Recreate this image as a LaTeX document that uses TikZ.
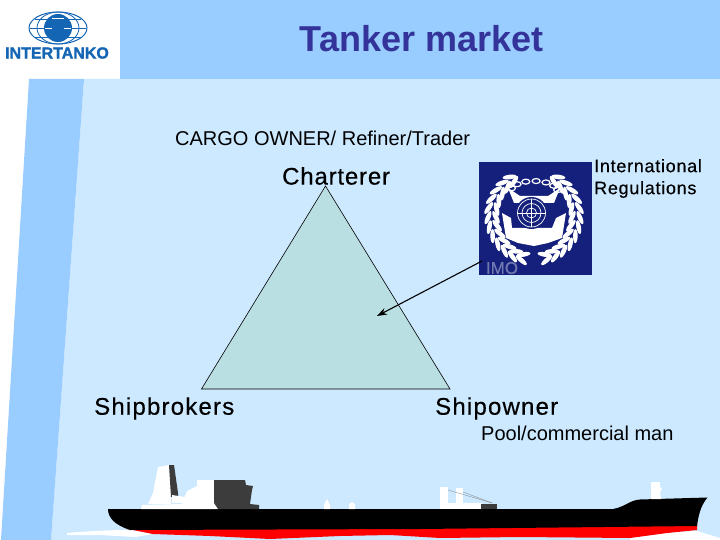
\documentclass[tikz,border=0pt]{standalone}
\usepackage{fontspec}
\usetikzlibrary{arrows.meta}
\setmainfont{Liberation Sans}
\definecolor{pagecol}{HTML}{CCE9FF}
\definecolor{bandcol}{HTML}{99CCFF}
\definecolor{titlecol}{HTML}{333399}
\definecolor{logocol}{HTML}{1565B5}
\definecolor{imocol}{HTML}{14207C}
\definecolor{trianglecol}{HTML}{BADFE3}
\definecolor{deckcol}{HTML}{3C3C3C}
\tikzstyle{textlabel}=[inner sep=0pt,anchor=west,black]
\tikzstyle{plain20}=[textlabel,font=\fontsize{20}{20}\selectfont]
\tikzstyle{spaced24}=[textlabel,font=\fontsize{24}{24}\selectfont\addfontfeature{LetterSpace=3.4,FakeBold=0.4}]
\tikzstyle{wide24}=[textlabel,font=\fontsize{24}{24}\selectfont\addfontfeature{LetterSpace=5,FakeBold=0.4}]
\tikzstyle{spaced18}=[textlabel,font=\fontsize{18}{22}\selectfont\addfontfeature{LetterSpace=4,FakeBold=0.4},align=left]
\tikzstyle{leaf}=[fill=white]
\tikzstyle{white part}=[fill=white]
\tikzstyle{dark part}=[fill=deckcol]
\begin{document}
\begin{tikzpicture}[x=1pt,y=-1pt]
    \useasboundingbox (0,0) rectangle (720,540);

    % page and header
    \fill[white] (0,0) rectangle (720,540);
    \fill[pagecol] (84,79) -- (720,79) -- (720,540) -- (51,540) -- cycle;
    \fill[bandcol] (29,79) -- (84,79) -- (51,540) -- (1,540) -- cycle;
    \fill[bandcol] (120,0) rectangle (720,79);
    \node (title)[inner sep=0pt,text=titlecol,font=\fontsize{36}{36}\selectfont\bfseries] at (421.5,39) {Tanker market};

    % company logo
    \fill[logocol] (58,28) ellipse [x radius=14pt,y radius=14pt];
    \draw[logocol,line width=1pt] (58,28) ellipse [x radius=29pt,y radius=16pt];
    \draw[logocol,line width=.8pt] (58,28) ellipse [x radius=21pt,y radius=16pt];
    \draw[logocol,line width=.8pt] (30,28) -- (86,28);
    \draw[logocol,line width=.8pt] (35,19) -- (81,19);
    \draw[logocol,line width=.8pt] (35,37) -- (81,37);
    \draw[white,line width=.8pt] (52,18) -- (64,18);
    \draw[white,line width=.8pt] (45,28) -- (52,28);
    \draw[white,line width=.8pt] (64,28) -- (71,28);
    \node (logoname)[inner sep=0pt,text=logocol,font=\fontsize{16}{16}\selectfont\bfseries\addfontfeature{FakeBold=1.5}] at (57,53) {INTERTANKO};

    % triangle
    \coordinate (apex) at (325.5,186);
    \coordinate (leftcorner) at (201.5,389);
    \coordinate (rightcorner) at (450,389);
    \draw[fill=trianglecol,line width=.6pt] (apex) -- (leftcorner) -- (rightcorner) -- cycle;

    \node (cargo)[plain20] at (175,138.5) {CARGO OWNER/ Refiner/Trader};
    \node (charterer)[spaced24] at (282,176) {Charterer};
    \node (shipbrokers)[wide24] at (94,408.5) {Shipbrokers};
    \node (shipowner)[wide24] at (435,408.5) {Shipowner};
    \node (pool)[plain20] at (481,433) {Pool/commercial man};
    \node (regulations)[spaced18] at (594,178.5) {International\\Regulations};

    % emblem
    \node (imobox)[fill=imocol,minimum width=113pt,minimum height=113pt,inner sep=0pt] at (535.5,218.5) {};
    \foreach \a in {122,134,...,254} {
        \fill[leaf,shift={({534+38*cos(\a)},{216-40*sin(\a)})},rotate=\a+115] (0,0) ellipse [x radius=7pt,y radius=2.3pt];
        \fill[leaf,shift={({534+46*cos(\a)},{216-46*sin(\a)})},rotate=\a+65] (0,0) ellipse [x radius=7pt,y radius=2.3pt];
    }
    \foreach \a in {-74,-62,...,58} {
        \fill[leaf,shift={({534+38*cos(\a)},{216-40*sin(\a)})},rotate=\a+65] (0,0) ellipse [x radius=7pt,y radius=2.3pt];
        \fill[leaf,shift={({534+46*cos(\a)},{216-46*sin(\a)})},rotate=\a+115] (0,0) ellipse [x radius=7pt,y radius=2.3pt];
    }
    \foreach \a in {10,35,...,170}
        \draw[white,line width=1.2pt] ({534+24*cos(\a)},{192-11*sin(\a)}) ellipse [x radius=4pt,y radius=2.5pt];
    \fill[white] (502,213) -- (511,218) -- (512,228) -- (552,228) -- (556,218) -- (566,213) -- (562,238) -- (548,243) -- (534,246) -- (518,243) -- (506,238) -- cycle;
    \fill[white] (508,188) -- (520,196) -- (548,196) -- (560,188) -- (554,203) -- (514,203) -- cycle;
    \fill[imocol] (531.5,213) circle [radius=16pt];
    \draw[white,line width=.7pt] (531.5,213) circle [radius=14pt];
    \draw[white,line width=.7pt] (531.5,213) circle [radius=9.5pt];
    \draw[white,line width=.7pt] (531.5,213) circle [radius=5pt];
    \draw[white,line width=.7pt] (517.5,213) -- (545.5,213);
    \draw[white,line width=.7pt] (531.5,199) -- (531.5,227);
    \node (imotext)[inner sep=0pt,text=imocol!60!white,font=\fontsize{17}{17}\selectfont\addfontfeature{FakeBold=0.5}] at (502,268) {IMO};

    \coordinate (armstart) at (482,261);
    \coordinate (armtip) at (377,316);
    \draw[-{Stealth[length=10pt,width=7pt]},line width=1.1pt] (armstart) -- (armtip);

    % wake
    \fill[white] (67,533) .. controls (90,531) and (110,530) .. (130,530) -- (153,534) -- (135,537) -- (100,535) -- (67,535) -- cycle;
    \fill[white] (630,538) -- (673,532) -- (697,531) -- (720,538) -- (720,540) -- (630,540) -- cycle;

    % hull
    \fill[red] (128,529) -- (697,523) -- (697,530) -- (667,533) -- (630,538) -- (520,537) -- (440,538) -- (390,535) -- (340,536) -- (270,539) -- (210,536) -- (153,534) -- cycle;
    \fill[black] (108,509) -- (613,509) .. controls (625,507) and (630,500) .. (640,499.5) -- (707.5,497.5) .. controls (703,503) and (699,510) .. (697,526) -- (420,529) -- (130,530) .. controls (115,525) and (108,518) .. cycle;

    % superstructure
    \fill[white part] (158,467) -- (169,465) -- (171,493) -- (171,504) -- (148,504) -- (153,493) -- cycle;
    \fill[dark part] (169,465) -- (174,465) -- (178,493) -- (178,496) -- (171,497) -- cycle;
    \fill[white part] (172,495) -- (185,497) -- (184,503) -- (172,503) -- cycle;
    \fill[white part] (141,509) -- (142,505) -- (184,504) -- (218,503) -- (218,509) -- cycle;
    \fill[white part] (182,504) -- (187,491) -- (197,486) -- (197,480) -- (215,480) -- (214,504) -- cycle;
    \fill[dark part] (214,480) -- (245,480) -- (246,485) -- (253,486) -- (252,490) -- (250,504) -- (259,505) -- (259,509) -- (218,509) -- (214,503) -- cycle;

    % masts and deck gear
    \fill[white part] (327,499) -- (330,505) -- (330,509) -- (324,509) -- (324,505) -- cycle;
    \fill[white part] (352,502) -- (355,504) -- (355,509) -- (349,509) -- (349,504) -- cycle;
    \fill[white part] (440,487) rectangle (448,507);
    \fill[white part] (456,488) rectangle (463,505);
    \fill[white part] (440,503) rectangle (482,509);
    \fill[dark part] (481,504) rectangle (497,509);
    \draw[gray,line width=.3pt] (448,490) -- (492,503);
    \draw[gray,line width=.3pt] (463,492) -- (492,503);
    \fill[white part] (651,482) -- (660,482) -- (660,487) -- (662,489) -- (660,492) -- (661,499) -- (651,499) -- cycle;
\end{tikzpicture}
\end{document}
